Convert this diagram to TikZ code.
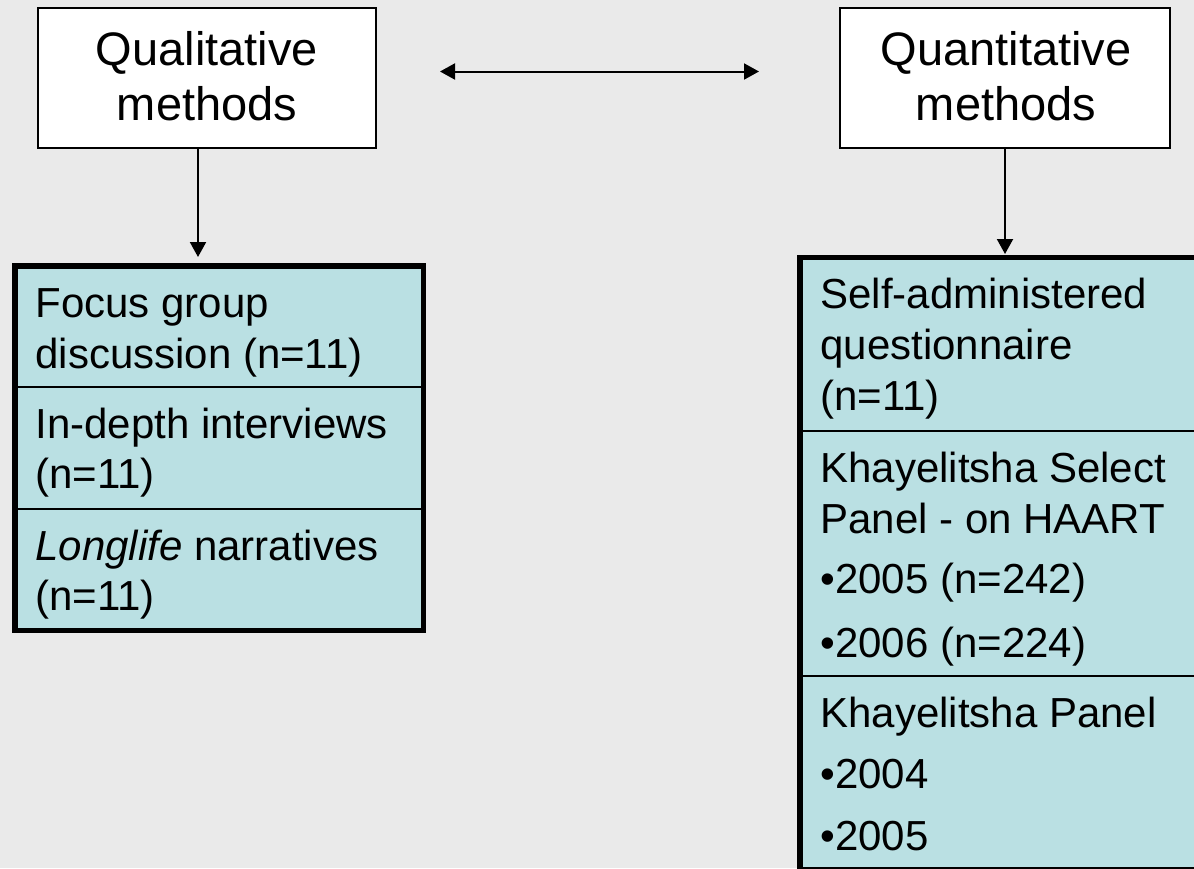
\documentclass[tikz,border=0pt]{standalone}
\usepackage{fontspec}
\setmainfont{Liberation Sans}
\usetikzlibrary{arrows.meta}
\definecolor{bg}{RGB}{234,234,234}
\definecolor{cell}{RGB}{186,224,227}
\begin{document}
\begin{tikzpicture}[x=0.5pt,y=-0.5pt,
  hdr/.style={draw=black, line width=1pt, fill=white, inner sep=0pt},
  tab/.style={draw=black, line width=2.75pt, fill=cell, inner sep=0pt},
  divline/.style={draw=black, line width=1pt},
  arr/.style={line width=1pt, -{Triangle[width=8pt,length=7.5pt]}},
  dblarr/.style={line width=1pt, {Triangle[width=8pt,length=7.5pt]}-{Triangle[width=8pt,length=7.5pt]}},
  htext/.style={font=\fontsize{23.5}{27}\selectfont, anchor=base, inner sep=0pt},
  btext/.style={font=\fontsize{21}{25}\selectfont, anchor=base west, inner sep=0pt},
]
\fill[bg] (0,0) rectangle (1194,868);
\useasboundingbox (0,0) rectangle (1194,868);
\clip (0,0) rectangle (1194,868);

% header boxes
\node[hdr, minimum width=169pt, minimum height=70pt] (qual) at (207,78) {};
\node[hdr, minimum width=165pt, minimum height=70pt] (quant) at (1005,78) {};
\node[htext] (qualA) at (207,65) {Qualitative};
\node[htext] (qualB) at (207,120) {methods};
\node[htext] (quantA) at (1006,65) {Quantitative};
\node[htext] (quantB) at (1006,120) {methods};

% tables
\node[tab, minimum width=204.25pt, minimum height=182.25pt] (ltab) at (219,448) {};
\node[tab, minimum width=205.1pt, minimum height=305.9pt] (rtab) at (1004.9,563.6) {};

\coordinate (ld1) at (0,387);
\coordinate (ld2) at (0,509);
\coordinate (rd1) at (0,431);
\coordinate (rd2) at (0,676);
\draw[divline] (ltab.west |- ld1) -- (ltab.east |- ld1);
\draw[divline] (ltab.west |- ld2) -- (ltab.east |- ld2);
\draw[divline] (rtab.west |- rd1) -- (rtab.east |- rd1);
\draw[divline] (rtab.west |- rd2) -- (rtab.east |- rd2);

% left table text
\node[btext] (l1) at (35,317) {Focus group};
\node[btext] (l2) at (35,368) {discussion (n=11)};
\node[btext] (l3) at (35,438) {In-depth interviews};
\node[btext] (l4) at (35,488) {(n=11)};
\node[btext] (l5) at (35,560) {\textit{Longlife} narratives};
\node[btext] (l6) at (35,610) {(n=11)};

% right table text
\node[btext] (r1) at (820,308) {Self-administered};
\node[btext] (r2) at (820,359) {questionnaire};
\node[btext] (r3) at (820,410) {(n=11)};
\node[btext] (r4) at (820,482) {Khayelitsha Select};
\node[btext] (r5) at (820,533) {Panel - on HAART};
\node[btext] (r6) at (820,593) {•2005 (n=242)};
\node[btext] (r7) at (820,657) {•2006 (n=224)};
\node[btext] (r8) at (820,727) {Khayelitsha Panel};
\node[btext] (r9) at (820,788) {•2004};
\node[btext] (r10) at (820,850) {•2005};

% connectors
\coordinate (la) at (198,257);
\coordinate (ra) at (1005,254);
\draw[arr] (qual.south -| la) -- (la);
\draw[arr] (quant.south -| ra) -- (ra);
\coordinate (da1) at (440,71.5);
\coordinate (da2) at (759,71.5);
\draw[dblarr] (da1) -- (da2);
\end{tikzpicture}
\end{document}
